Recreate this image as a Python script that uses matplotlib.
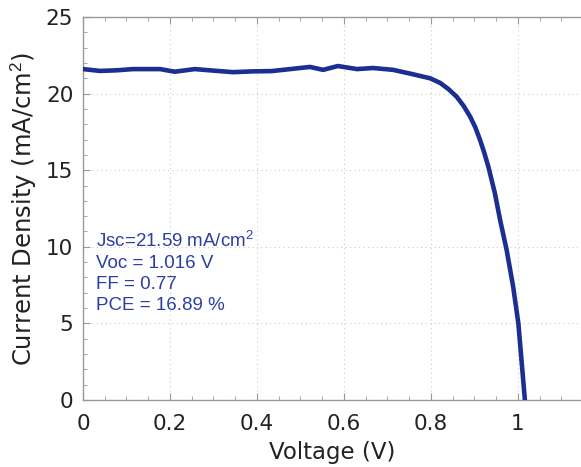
import matplotlib.pyplot as plt
from matplotlib.ticker import MultipleLocator

# J-V curve
voltage = [0.0, 0.039, 0.077, 0.115, 0.177, 0.211, 0.257, 0.300, 0.345, 0.390,
           0.434, 0.499, 0.522, 0.552, 0.586, 0.630, 0.667, 0.713, 0.756,
           0.798, 0.821, 0.840, 0.859, 0.875, 0.890, 0.902, 0.913, 0.923,
           0.932, 0.947, 0.959, 0.974, 0.989, 1.001, 1.016]
current = [21.6, 21.48, 21.52, 21.6, 21.6, 21.43, 21.6, 21.5, 21.4, 21.45,
           21.47, 21.67, 21.74, 21.55, 21.8, 21.6, 21.67, 21.55, 21.28,
           21.0, 20.7, 20.3, 19.8, 19.2, 18.5, 17.8, 16.97, 16.1,
           15.23, 13.5, 11.75, 9.8, 7.4, 5.0, 0.0]

annot = "Jsc=21.59 mA/cm$^2$\nVoc = 1.016 V\nFF = 0.77\nPCE = 16.89 %"

plt.rcParams['mathtext.fontset'] = 'custom'
plt.rcParams['mathtext.rm'] = 'Liberation Sans'
plt.rcParams['mathtext.it'] = 'Liberation Sans:italic'

fig = plt.figure(figsize=(5.81, 4.67), dpi=100)
ax = fig.add_axes([83 / 581, 67 / 467, 498 / 581, 383 / 467])

ax.plot(voltage, current, color='#1b2f93', linewidth=3.3,
        solid_capstyle='round', solid_joinstyle='round', zorder=3)

ax.set_xlim(0, 1.145)
ax.set_ylim(0, 25)
ax.xaxis.set_minor_locator(MultipleLocator(0.05))
ax.yaxis.set_major_locator(MultipleLocator(5))
ax.yaxis.set_minor_locator(MultipleLocator(1))
ax.set_xticks([0, 0.2, 0.4, 0.6, 0.8, 1.0])
ax.set_xticklabels(['0', '0.2', '0.4', '0.6', '0.8', '1'])

ax.grid(True, which='major', linestyle=(0, (1, 3)), color='#cccccc',
        linewidth=0.8)

for s in ['left', 'bottom', 'top']:
    ax.spines[s].set_color('#999999')
    ax.spines[s].set_linewidth(1.0)
ax.spines['right'].set_visible(False)

ax.tick_params(which='both', direction='in', top=True, right=False,
               colors='#999999', labelcolor='#222222')
ax.tick_params(which='major', length=5, labelsize=15.5)
ax.tick_params(axis='x', which='major', pad=10)
ax.tick_params(axis='y', which='major', pad=7)
ax.tick_params(which='minor', length=3)

ax.set_xlabel("Voltage (V)", fontsize=16.5, color='#222222', labelpad=5)
ax.set_ylabel("Current Density (mA/cm$^2$)", fontsize=17.5, color='#222222',
              labelpad=5)

ax.text(0.03, 11.05, annot, fontsize=13.5, color='#2b3fa3', va='top',
        ha='left', family='Liberation Sans', linespacing=1.32)

fig.savefig("out.png", dpi=100)
